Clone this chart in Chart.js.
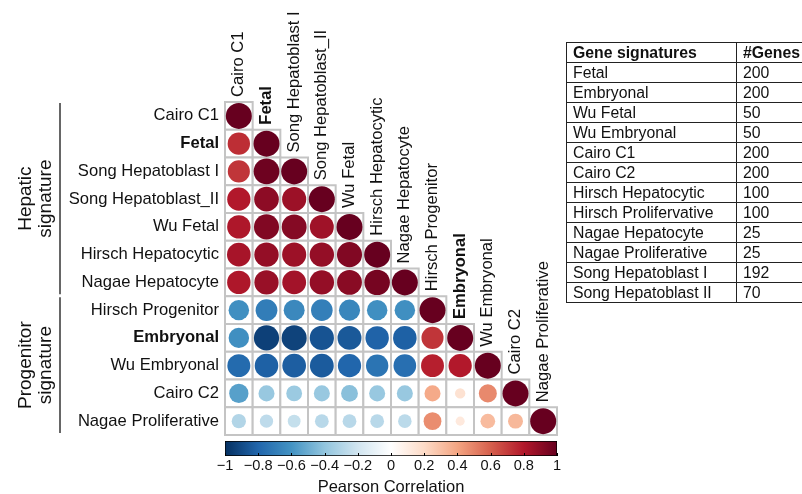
<!DOCTYPE html>
<html>
<head>
<meta charset="utf-8">
<script src="https://cdn.jsdelivr.net/npm/chart.js@4.4.1/dist/chart.umd.min.js"></script>
<style>
  body { margin: 0; background: #fff; }
  #wrap { position: relative; width: 802px; height: 494px; overflow: hidden;
          font-family: "Liberation Sans", Arial, sans-serif; }
  #wrap canvas { position: absolute; left: 0; top: 0; }
  #tablebox { position: absolute; left: 566px; top: 42px; width: 300px; }
  #genes { border-collapse: collapse; table-layout: fixed; width: 270px; min-width: 270px;
           font-size: 15.8px; color: #111; }
  #genes td, #genes th { border: 1px solid #222; padding: 0 0 0 6px; height: 19px;
           line-height: 19px; text-align: left; white-space: nowrap; overflow: hidden; }
  #genes td:last-child, #genes th:last-child { border-right: none; }
  #genes th { font-weight: bold; }
</style>
</head>
<body>
<div id="wrap">
  <canvas id="corrplot" width="802" height="494"></canvas>
  <canvas id="colorbar" width="802" height="497"></canvas>
  <div id="tablebox">
    <table id="genes"><colgroup><col style="width:170px"><col style="width:100px"></colgroup></table>
  </div>
</div>
<script>
const signatures = [
  "Cairo C1", "Fetal", "Song Hepatoblast I", "Song Hepatoblast_II", "Wu Fetal",
  "Hirsch Hepatocytic", "Nagae Hepatocyte", "Hirsch Progenitor", "Embryonal",
  "Wu Embryonal", "Cairo C2", "Nagae Proliferative"
];
const boldNames = ["Fetal", "Embryonal"];

// lower triangle of the Pearson matrix, one row per signature
const corrCairoC1   = [1];
const corrFetal     = [0.74, 1];
const corrSongI     = [0.72, 0.98, 1];
const corrSongII    = [0.80, 0.90, 0.86, 1];
const corrWuFetal   = [0.81, 0.93, 0.92, 0.85, 1];
const corrHirschHep = [0.83, 0.88, 0.86, 0.88, 0.93, 1];
const corrNagaeHep  = [0.81, 0.87, 0.84, 0.88, 0.91, 0.96, 1];
const corrHirschPro = [-0.62, -0.70, -0.65, -0.69, -0.66, -0.62, -0.62, 1];
const corrEmbryonal = [-0.62, -0.94, -0.93, -0.87, -0.85, -0.81, -0.82, 0.72, 1];
const corrWuEmb     = [-0.78, -0.82, -0.83, -0.84, -0.80, -0.74, -0.76, 0.78, 0.80, 1];
const corrCairoC2   = [-0.55, -0.38, -0.37, -0.38, -0.42, -0.38, -0.38, 0.38, 0.16, 0.48, 1];
const corrNagaePro  = [-0.30, -0.26, -0.24, -0.28, -0.28, -0.28, -0.27, 0.47, 0.12, 0.32, 0.33, 1];
const corrRows = [corrCairoC1, corrFetal, corrSongI, corrSongII, corrWuFetal, corrHirschHep,
                  corrNagaeHep, corrHirschPro, corrEmbryonal, corrWuEmb, corrCairoC2, corrNagaePro];

const groups = [
  { lines: ["Hepatic", "signature"], first: "Cairo C1", last: "Nagae Hepatocyte" },
  { lines: ["Progenitor", "signature"], first: "Hirsch Progenitor", last: "Nagae Proliferative" }
];

const tableNames = ["Fetal", "Embryonal", "Wu Fetal", "Wu Embryonal", "Cairo C1", "Cairo C2",
  "Hirsch Hepatocytic", "Hirsch Prolifervative", "Nagae Hepatocyte", "Nagae Proliferative",
  "Song Hepatoblast I", "Song Hepatoblast II"];
const tableGenes = [200, 200, 50, 50, 200, 200, 100, 100, 25, 25, 192, 70];

// RdBu ramp from -1 to 1
const rdbu = ["#053061", "#2166AC", "#4393C3", "#92C5DE", "#D1E5F0", "#FFFFFF",
              "#FDDBC7", "#F4A582", "#D6604D", "#B2182B", "#67001F"];

const FONT = '"Liberation Sans", Arial, sans-serif';
const LABEL_SIZE = 16.6;
const MAX_R = 13;

function hex(c) { return [1, 3, 5].map(i => parseInt(c.slice(i, i + 2), 16)); }
function colorFor(v) {
  const t = Math.max(0, Math.min(1, (v + 1) / 2)) * (rdbu.length - 1);
  const i = Math.min(rdbu.length - 2, Math.floor(t));
  const f = t - i;
  const a = hex(rdbu[i]), b = hex(rdbu[i + 1]);
  const m = a.map((x, k) => Math.round(x + (b[k] - x) * f));
  return `rgb(${m[0]},${m[1]},${m[2]})`;
}

const points = [];
corrRows.forEach((row, i) => {
  row.forEach((v, j) => {
    points.push({ x: signatures[j], y: signatures[i], v: v, r: MAX_R * Math.sqrt(Math.abs(v)) });
  });
});

// white cells with grey borders under the circles
const cellGrid = {
  id: 'cellGrid',
  beforeDatasetsDraw(chart) {
    const { ctx, scales: { x, y } } = chart;
    const w = x.getPixelForValue(1) - x.getPixelForValue(0);
    const h = y.getPixelForValue(1) - y.getPixelForValue(0);
    ctx.save();
    ctx.strokeStyle = '#c4c4c4';
    ctx.lineWidth = 2;
    corrRows.forEach((row, i) => {
      row.forEach((v, j) => {
        const cx = x.getPixelForValue(j), cy = y.getPixelForValue(i);
        ctx.fillStyle = '#fff';
        ctx.fillRect(cx - w / 2, cy - h / 2, w, h);
        ctx.strokeRect(cx - w / 2, cy - h / 2, w, h);
      });
    });
    ctx.restore();
  },
  afterDraw(chart) {
    const { ctx, scales: { x, y } } = chart;
    const h = y.getPixelForValue(1) - y.getPixelForValue(0);
    ctx.save();
    ctx.fillStyle = '#111';
    // column names sit on top of the diagonal
    signatures.forEach((name, j) => {
      const cx = x.getPixelForValue(j), top = y.getPixelForValue(j) - h / 2;
      ctx.save();
      ctx.translate(cx, top - 5);
      ctx.rotate(-Math.PI / 2);
      ctx.font = (boldNames.includes(name) ? 'bold ' : '') + LABEL_SIZE + 'px ' + FONT;
      ctx.textAlign = 'left';
      ctx.textBaseline = 'middle';
      ctx.fillText(name, 0, 0);
      ctx.restore();
    });
    // group brackets and titles
    groups.forEach(g => {
      const y0 = y.getPixelForValue(signatures.indexOf(g.first)) - h / 2 + 1;
      const y1 = y.getPixelForValue(signatures.indexOf(g.last)) + h / 2 - 2;
      ctx.strokeStyle = '#333';
      ctx.lineWidth = 1.5;
      ctx.beginPath();
      ctx.moveTo(60, y0);
      ctx.lineTo(60, y1);
      ctx.stroke();
      ctx.save();
      ctx.translate(36, (y0 + y1) / 2);
      ctx.rotate(-Math.PI / 2);
      ctx.font = '19px ' + FONT;
      ctx.textAlign = 'center';
      ctx.textBaseline = 'middle';
      ctx.fillText(g.lines[0], 0, -10);
      ctx.fillText(g.lines[1], 0, 10);
      ctx.restore();
    });
    ctx.restore();
  }
};

new Chart(document.getElementById('corrplot'), {
  type: 'bubble',
  data: {
    datasets: [{
      data: points,
      backgroundColor: ctx => colorFor(ctx.raw ? ctx.raw.v : 0),
      borderWidth: 0
    }]
  },
  options: {
    responsive: false,
    animation: false,
    events: [],
    layout: { padding: { left: 0, top: 102, right: 245, bottom: 59 } },
    plugins: { legend: { display: false }, tooltip: { enabled: false } },
    scales: {
      x: { type: 'category', labels: signatures, offset: true, display: false },
      y: {
        type: 'category', labels: signatures, offset: true,
        grid: { display: false, drawTicks: false }, border: { display: false },
        ticks: {
          padding: 6, color: '#111',
          font: ctx => ({ family: FONT, size: LABEL_SIZE,
            weight: ctx.tick && boldNames.includes(ctx.tick.label) ? 'bold' : 'normal' })
        },
        afterFit: s => { s.width = 225; }
      }
    }
  },
  plugins: [cellGrid]
});

// colour key
function rampGradient(chart) {
  const a = chart.chartArea;
  if (!a) return '#fff';
  const g = chart.ctx.createLinearGradient(a.left, 0, a.right, 0);
  rdbu.forEach((c, k) => g.addColorStop(k / (rdbu.length - 1), c));
  return g;
}

const innerTicks = {
  id: 'innerTicks',
  afterDatasetsDraw(chart) {
    const { ctx, chartArea: a, scales: { x } } = chart;
    ctx.save();
    ctx.strokeStyle = '#000';
    ctx.lineWidth = 1;
    x.ticks.forEach(t => {
      const px = Math.round(x.getPixelForValue(t.value)) + 0.5;
      ctx.beginPath();
      ctx.moveTo(px, a.bottom);
      ctx.lineTo(px, a.bottom - 3);
      ctx.stroke();
    });
    ctx.restore();
  }
};

new Chart(document.getElementById('colorbar'), {
  type: 'bar',
  data: {
    labels: [''],
    datasets: [{
      data: [[-1, 1]],
      backgroundColor: ctx => rampGradient(ctx.chart),
      borderColor: '#000', borderWidth: 1, borderSkipped: false,
      barPercentage: 1, categoryPercentage: 1
    }]
  },
  options: {
    indexAxis: 'y',
    responsive: false,
    animation: false,
    events: [],
    layout: { padding: { left: 225, right: 245, top: 441, bottom: 0 } },
    plugins: { legend: { display: false }, tooltip: { enabled: false } },
    scales: {
      x: {
        min: -1, max: 1,
        grid: { display: false, drawTicks: false }, border: { display: false },
        ticks: {
          stepSize: 0.2, padding: 1, color: '#111', maxRotation: 0, autoSkip: false,
          font: { family: FONT, size: 14.6 },
          callback: v => String(Math.round(v * 10) / 10).replace('-', '\u2212')
        },
        title: { display: true, text: 'Pearson Correlation', color: '#111',
                 font: { family: FONT, size: 16.5 }, padding: 0 },
        afterFit: s => { s.height = 41; }
      },
      y: { display: false }
    }
  },
  plugins: [innerTicks]
});

// gene count table
const table = document.getElementById('genes');
const head = table.insertRow();
["Gene signatures", "#Genes"].forEach(t => {
  const th = document.createElement('th');
  th.textContent = t;
  head.appendChild(th);
});
tableNames.forEach((n, i) => {
  const tr = table.insertRow();
  tr.insertCell().textContent = n;
  tr.insertCell().textContent = tableGenes[i];
});
</script>
</body>
</html>
